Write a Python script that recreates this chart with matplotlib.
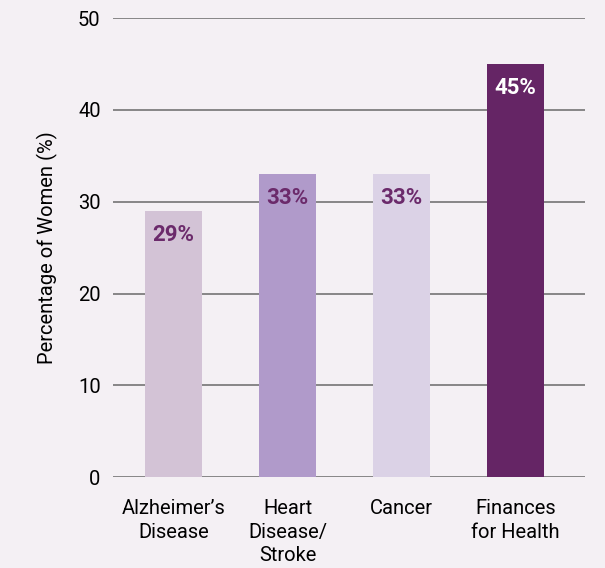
import matplotlib.pyplot as plt

categories = ["Alzheimer\u2019s\nDisease", "Heart\nDisease/\nStroke", "Cancer", "Finances\nfor Health"]
values = [29, 33, 33, 45]
labels = ["29%", "33%", "33%", "45%"]
colors = ["#D3C3D6", "#B09ACA", "#DBD2E6", "#652565"]
label_colors = ["#6B2A6B", "#6B2A6B", "#6B2A6B", "white"]

plt.rcParams['font.family'] = ['Roboto', 'DejaVu Sans']
bg = "#F4F0F4"

fig = plt.figure(figsize=(6.05, 5.68), dpi=100, facecolor=bg)
ax = fig.add_axes([0.187, 0.160, 0.780, 0.808], facecolor=bg)

x = range(len(values))
ax.set_axisbelow(True)
ax.yaxis.grid(True, color="#747474", linewidth=1.2)
ax.bar(x, values, width=0.5, color=colors, zorder=2)

for i, v in enumerate(values):
    ax.annotate(labels[i], (i, v), xytext=(0, -24), textcoords='offset pixels',
                ha='center', va='center', fontsize=16, fontweight='bold',
                color=label_colors[i], zorder=3)

ax.set_xlim(-0.53, 3.61)
ax.set_ylim(0, 50)
ax.set_yticks([0, 10, 20, 30, 40, 50])
ax.set_xticks(list(x))
ax.set_xticklabels(categories, fontsize=14.5, linespacing=1.3)
ax.tick_params(axis='y', length=0, labelsize=14.5, pad=9)
ax.tick_params(axis='x', length=0, pad=16)
for s in ax.spines.values():
    s.set_visible(False)
ax.set_ylabel("Percentage of Women (%)", fontsize=14.5, labelpad=14)

fig.savefig("out.png", dpi=100, facecolor=bg)
